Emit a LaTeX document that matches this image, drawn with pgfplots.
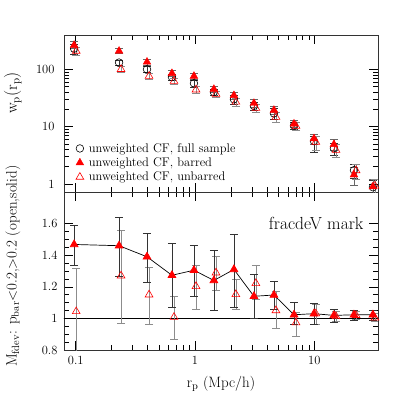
\documentclass[border=0pt]{standalone}
\usepackage{fontspec}
\usepackage{pgfplots}
\pgfplotsset{compat=1.18}
\begin{document}
\begin{tikzpicture}
\path[use as bounding box] (-64pt,-63pt) rectangle (349pt,350pt);
% lower panel: mark ratio
\begin{axis}[scale only axis, width=314pt, height=158pt, at={(0,0)}, anchor=south west,
  xmode=log, xmin=0.0798, xmax=34.2, xtick={0.1,1,10}, xticklabels={0.1,1,10},
  ymin=0.8, ymax=1.8, ytick={0.8,1,1.2,1.4,1.6}, yticklabels={0.8,1,1.2,1.4,1.6},
  minor y tick num=3,
  tick align=inside, major tick length=9pt, minor tick length=5pt,
  axis line style={black!80, line width=0.8pt},
  tick style={black, line width=0.6pt},
  tick label style={font=\fontsize{12.5}{14}\selectfont},
  xticklabel style={yshift=-3pt}, yticklabel style={xshift=-3pt},
  xlabel={$\mathrm{r_p}$ (Mpc/h)},
  xlabel style={at={(axis description cs:0.5,-0.215)}, anchor=center, font=\fontsize{15}{17}\selectfont},
  ylabel={$\mathrm{M_{fdev}}$: $\mathrm{p_{bar}}$$<$0.2,$>$0.2 (open,solid)},
  ylabel style={at={(axis description cs:-0.163,0.53)}, anchor=center, font=\fontsize{15}{17}\selectfont},
]
\addplot[black, line width=0.7pt, forget plot] coordinates {(0.05,1) (50,1)};
\addplot[only marks, mark=triangle, mark size=4.5pt, mark options={draw=red, line width=0.6pt},
  error bars/.cd, y dir=both, y explicit,
  error bar style={black!45, line width=0.6pt},
  error mark options={rotate=90, black!45, mark size=4pt, line width=0.6pt}] coordinates {
  (0.101,1.044) += (0,0.276) -= (0,0.284)
  (0.240,1.27) += (0,0.29) -= (0,0.304)
  (0.412,1.15) += (0,0.176) -= (0,0.188)
  (0.667,1.008) += (0,0.132) -= (0,0.143)
  (1.02,1.203) += (0,0.134) -= (0,0.146)
  (1.50,1.289) += (0,0.101) -= (0,0.109)
  (2.20,1.152) += (0,0.096) -= (0,0.097)
  (3.24,1.222) += (0,0.116) -= (0,0.102)
  (4.77,1.05) += (0,0.12) -= (0,0.11)
  (7.03,0.973) += (0,0.067) -= (0,0.087)
  (10.3,1.03) += (0,0.06) -= (0,0.065)
  (15.2,1.013) += (0,0.032) -= (0,0.033)
  (22.4,1.02) += (0,0.025) -= (0,0.025)
  (32.2,1.004) += (0,0.026) -= (0,0.024)
};
\addplot[black, line width=0.7pt, mark=triangle*, mark size=4.5pt, mark options={draw=red, fill=red, solid},
  error bars/.cd, y dir=both, y explicit,
  error bar style={black!80, line width=0.6pt},
  error mark options={rotate=90, black!80, mark size=4pt, line width=0.6pt}] coordinates {
  (0.097,1.468) += (0,0.122) -= (0,0.131)
  (0.231,1.46) += (0,0.183) -= (0,0.193)
  (0.396,1.39) += (0,0.15) -= (0,0.16)
  (0.641,1.273) += (0,0.201) -= (0,0.205)
  (0.98,1.305) += (0,0.158) -= (0,0.165)
  (1.44,1.24) += (0,0.19) -= (0,0.19)
  (2.12,1.31) += (0,0.225) -= (0,0.242)
  (3.12,1.14) += (0,0.14) -= (0,0.14)
  (4.59,1.148) += (0,0.089) -= (0,0.088)
  (6.76,1.023) += (0,0.077) -= (0,0.063)
  (9.94,1.03) += (0,0.067) -= (0,0.07)
  (14.6,1.019) += (0,0.036) -= (0,0.042)
  (21.5,1.023) += (0,0.027) -= (0,0.033)
  (31.0,1.023) += (0,0.027) -= (0,0.033)
};
\node[anchor=east, font=\fontsize{17.5}{19}\selectfont] at (axis description cs:0.965,0.80) {fracdeV mark};
\end{axis}
% upper panel: projected correlation functions
\begin{axis}[scale only axis, width=314pt, height=157pt, at={(0,158pt)}, anchor=south west,
  xmode=log, xmin=0.0798, xmax=34.2, xtick={0.1,1,10}, xticklabels={},
  ymode=log, ymin=0.726, ymax=396, ytick={1,10,100}, yticklabels={1,10,100},
  tick align=inside, major tick length=9pt, minor tick length=5pt,
  axis line style={black!80, line width=0.8pt},
  tick style={black, line width=0.6pt},
  tick label style={font=\fontsize{12.5}{14}\selectfont},
  yticklabel style={xshift=-6pt},
  ylabel={$\mathrm{w_p(r_p)}$},
  ylabel style={at={(axis description cs:-0.163,0.63)}, anchor=center, font=\fontsize{16}{18}\selectfont},
  legend style={at={(axis description cs:0.028,0.337)}, anchor=north west, draw=none, fill=none,
    font=\fontsize{12.5}{14.5}\selectfont, row sep=0pt,
    /tikz/every odd column/.append style={column sep=3pt}},
  legend cell align=left,
]
\addplot[only marks, mark=o, mark size=3.8pt, mark options={black, line width=0.6pt},
  error bars/.cd, y dir=both, y explicit,
  error bar style={black!80, line width=0.6pt},
  error mark options={rotate=90, black!80, mark size=4pt, line width=0.6pt}] coordinates {
  (0.097,229) += (0,40) -= (0,45)
  (0.231,131) += (0,15) -= (0,15)
  (0.396,100) += (0,12) -= (0,12)
  (0.641,73) += (0,9) -= (0,9)
  (0.98,57) += (0,8) -= (0,8)
  (1.44,40) += (0,5) -= (0,5)
  (2.12,30) += (0,5) -= (0,5)
  (3.12,23) += (0,4) -= (0,4)
  (4.59,17) += (0,3.5) -= (0,3.5)
  (6.76,10.5) += (0,1.5) -= (0,1.5)
  (9.94,5.6) += (0,1.2) -= (0,2.0)
  (14.6,4.2) += (0,1.0) -= (0,1.0)
  (21.5,1.74) += (0,0.5) -= (0,0.5)
  (31.0,0.88) += (0,0.3) -= (0,0.25)
};
\addplot[only marks, mark=triangle*, mark size=4.5pt, mark options={draw=red, fill=red},
  error bars/.cd, y dir=both, y explicit,
  error bar style={black!60, line width=0.6pt},
  error mark options={rotate=90, black!60, mark size=4pt, line width=0.6pt}] coordinates {
  (0.097,263) += (0,40) -= (0,35)
  (0.231,208) += (0,20) -= (0,20)
  (0.396,134) += (0,15) -= (0,15)
  (0.641,85) += (0,10) -= (0,10)
  (0.98,76) += (0,9) -= (0,9)
  (1.44,45) += (0,6) -= (0,6)
  (2.12,35) += (0,5) -= (0,5)
  (3.12,25.6) += (0,4) -= (0,4)
  (4.59,19.4) += (0,3) -= (0,3)
  (6.76,11.2) += (0,1.5) -= (0,1.5)
  (9.94,6.2) += (0,1.2) -= (0,1.2)
  (14.6,4.9) += (0,1.1) -= (0,1.1)
  (21.5,1.45) += (0,0.5) -= (0,0.5)
  (31.0,0.90) += (0,0.3) -= (0,0.3)
};
\addplot[only marks, mark=triangle, mark size=4.5pt, mark options={draw=red, line width=0.6pt},
  error bars/.cd, y dir=both, y explicit,
  error bar style={black!45, line width=0.6pt},
  error mark options={rotate=90, black!45, mark size=4pt, line width=0.6pt}] coordinates {
  (0.101,208) += (0,30) -= (0,30)
  (0.240,100) += (0,12) -= (0,12)
  (0.412,76) += (0,9) -= (0,9)
  (0.667,62) += (0,7) -= (0,7)
  (1.02,44) += (0,6) -= (0,6)
  (1.50,37) += (0,5) -= (0,5)
  (2.20,27) += (0,4) -= (0,4)
  (3.24,21) += (0,3.5) -= (0,3.5)
  (4.77,14.7) += (0,3) -= (0,3)
  (7.03,10.2) += (0,1.5) -= (0,1.5)
  (10.3,5.4) += (0,1.5) -= (0,1.5)
  (15.2,3.9) += (0,1.0) -= (0,1.0)
  (22.4,1.72) += (0,0.5) -= (0,0.5)
  (32.2,0.93) += (0,0.3) -= (0,0.3)
};
\legend{unweighted CF{,} full sample, unweighted CF{,} barred, unweighted CF{,} unbarred}
\end{axis}
\end{tikzpicture}
\end{document}
